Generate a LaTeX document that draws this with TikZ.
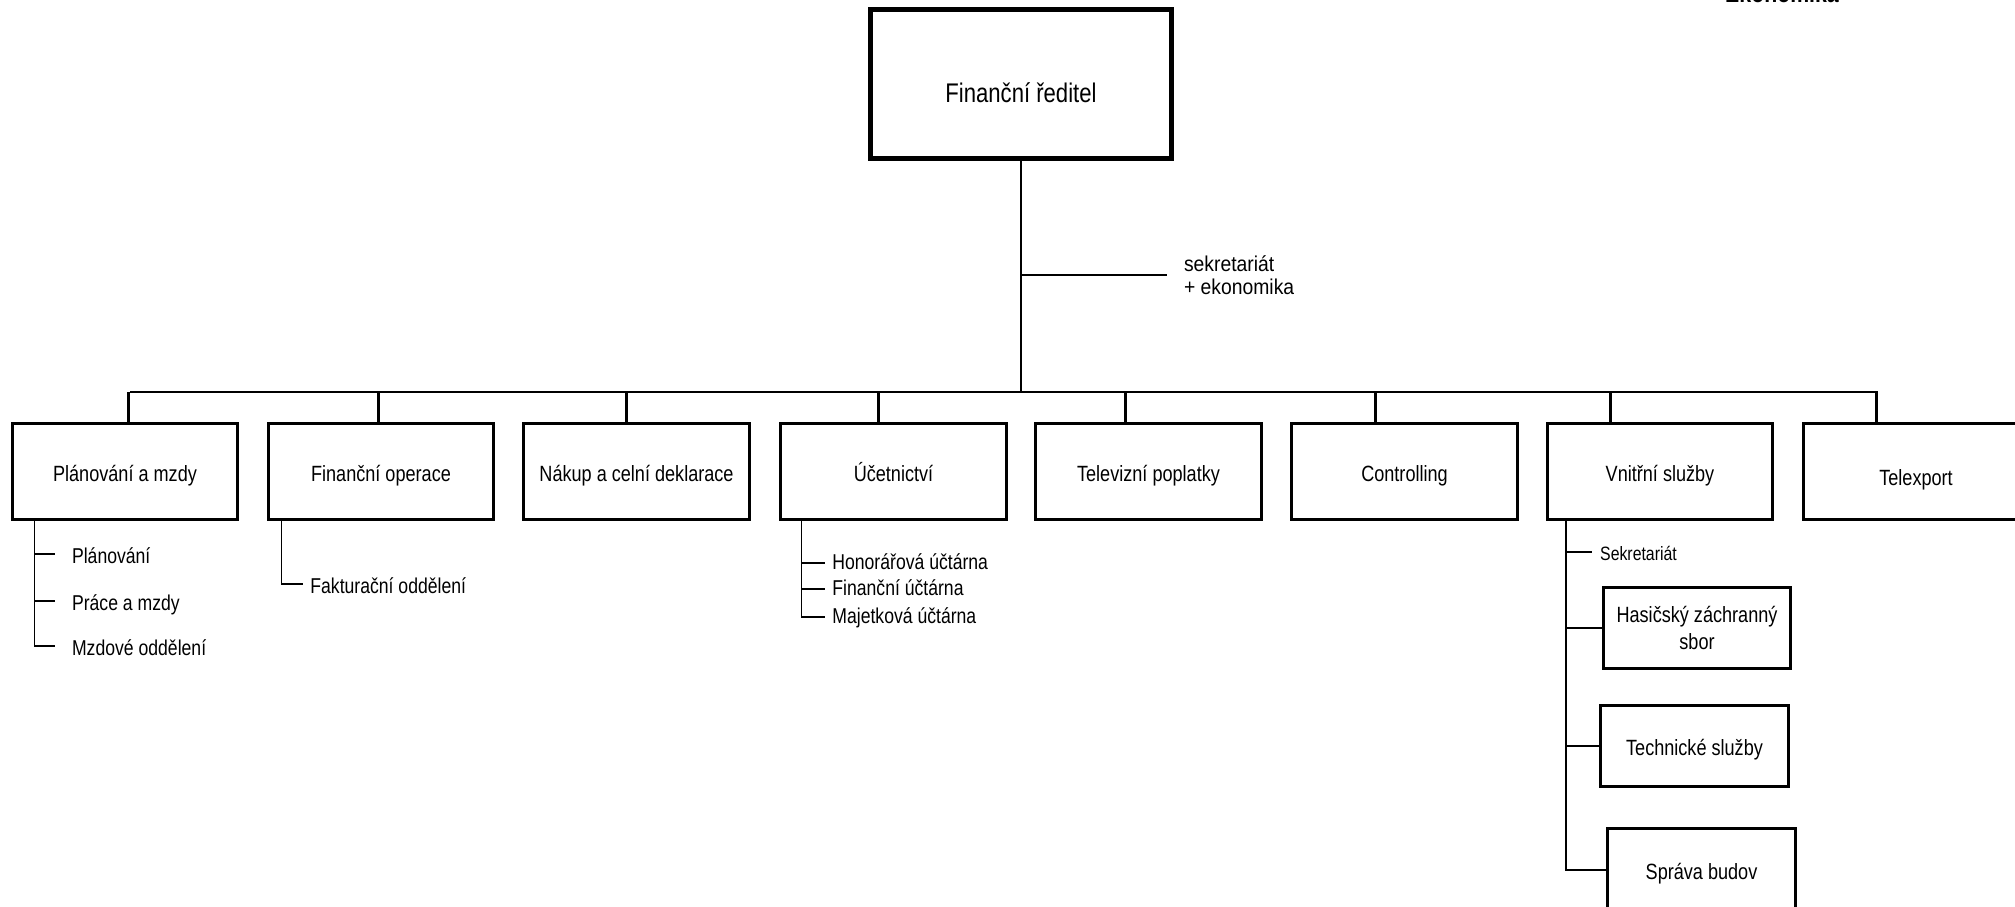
\documentclass[tikz,border=0pt]{standalone}
\usepackage{fontspec}
\setmainfont{Liberation Sans}[FakeStretch=0.82]
\newfontfamily\widefont{Liberation Sans}[FakeStretch=0.9]
\usepackage{tikz}
\usepackage{xcolor}
\tikzstyle{deptbox} = [rectangle, draw=black, line width=0.54mm, minimum width=40.6mm,
                       minimum height=17.1mm, inner sep=0pt, text centered,
                       text height=1.5ex+1.2mm, text depth=0.25ex,
                       font=\fontsize{11.3}{13}\selectfont]
\tikzstyle{headbox} = [deptbox, line width=0.9mm, minimum width=54mm, minimum height=26.8mm,
                       text height=7.2mm, font=\fontsize{13.8}{16}\selectfont]
\tikzstyle{subbox}  = [deptbox, minimum width=33.7mm, minimum height=14.5mm, align=center,
                       font=\fontsize{11.3}{13.6}\selectfont]
\tikzstyle{item}    = [anchor=west, inner xsep=1.26mm, inner ysep=0pt,
                       text height=1.5ex, text depth=0.25ex, font=\fontsize{11}{13}\selectfont]
\tikzstyle{lowitem} = [item, text height=1.5ex+1.2mm]
\tikzstyle{link}    = [line width=0.5mm]
\tikzstyle{twig}    = [line width=0.25mm]

\begin{document}
\begin{tikzpicture}[x=0.18mm, y=-0.18mm]
\useasboundingbox (0,0) rectangle (2015,907);

% title cut at the page top
\node[anchor=base, font=\bfseries\fontsize{13.3}{15}\selectfont] (eko) at (1782,3) {Ekonomika};

% head
\node[headbox] (fin) at (1021,84) {Finanční ředitel};
\node[anchor=west, inner xsep=3mm, align=left, font=\widefont\fontsize{11}{11.6}\selectfont] (sek) at (1167,275) {sekretariát\\+ ekonomika};
\coordinate (sekA) at (fin.south |- sek.west);
\coordinate (busL) at (130,392);
\coordinate (busR) at (1878,392);

% departments
\node[deptbox] (b1) at (125,471.5)    {Plánování a mzdy};
\node[deptbox] (b2) at (381,471.5)    {Finanční operace};
\node[deptbox] (b3) at (636.5,471.5)  {Nákup a celní deklarace};
\node[deptbox] (b4) at (893.5,471.5)  {Účetnictví};
\node[deptbox] (b5) at (1148.5,471.5) {Televizní poplatky};
\node[deptbox] (b6) at (1404.5,471.5) {Controlling};
\node[deptbox] (b7) at (1660,471.5)   {Vnitřní služby};
\node[deptbox, text height=1.5ex+2.6mm] (b8) at (1916,471.5) {Telexport};

\draw[link] (fin.south) -- (fin.south |- busL);
\draw[link] (sekA) -- (sek.west);
\draw[link] (busL) -- (busR);
\foreach \b/\d in {b1/118, b2/112, b3/104, b4/99, b5/91, b6/85, b7/65, b8/75}
  \draw[link] ([xshift=\d*0.18mm]\b.north west) -- ([xshift=\d*0.18mm]\b.north west |- busL);

% Planovani a mzdy
\node[lowitem, inner xsep=3mm] (s11) at (55,554) {Plánování};
\node[lowitem, inner xsep=3mm] (s12) at (55,601) {Práce a mzdy};
\node[lowitem, inner xsep=3mm] (s13) at (55,646) {Mzdové oddělení};
\coordinate (t1) at ([xshift=24*0.18mm]b1.south west);
\draw[twig] (t1) |- (s13.west);
\draw[twig] (t1 |- s11.west) -- (s11.west);
\draw[twig] (t1 |- s12.west) -- (s12.west);

% Financni operace
\node[lowitem] (s21) at (303,584) {Fakturační oddělení};
\coordinate (t2) at ([xshift=15*0.18mm]b2.south west);
\draw[twig] (t2) |- (s21.west);

% Ucetnictvi
\node[item] (s41) at (825,563) {Honorářová účtárna};
\node[item] (s42) at (825,589) {Finanční účtárna};
\node[item] (s43) at (825,617) {Majetková účtárna};
\coordinate (t4) at ([xshift=22*0.18mm]b4.south west);
\draw[twig] (t4) |- (s43.west);
\draw[twig] (t4 |- s41.west) -- (s41.west);
\draw[twig] (t4 |- s42.west) -- (s42.west);

% Vnitrni sluzby
\node[item, inner xsep=1.4mm, text height=1.5ex+0.9mm, font=\fontsize{9.9}{12}\selectfont] (s71) at (1592,552) {Sekretariát};
\node[subbox, text height={}, text depth={}] (h1) at (1697,628) {Hasičský záchranný\\sbor};
\node[subbox] (h2) at (1694.5,746) {Technické služby};
\node[subbox, minimum height=15.1mm] (h3) at (1701.5,870) {Správa budov};
\coordinate (t7) at ([xshift=20*0.18mm]b7.south west);
\draw[line width=0.35mm] (t7) |- (h3.west);
\draw[twig] (t7 |- s71.west) -- (s71.west);
\draw[line width=0.35mm] (t7 |- h1.west) -- (h1.west);
\draw[line width=0.35mm] (t7 |- h2.west) -- (h2.west);
\end{tikzpicture}
\end{document}
